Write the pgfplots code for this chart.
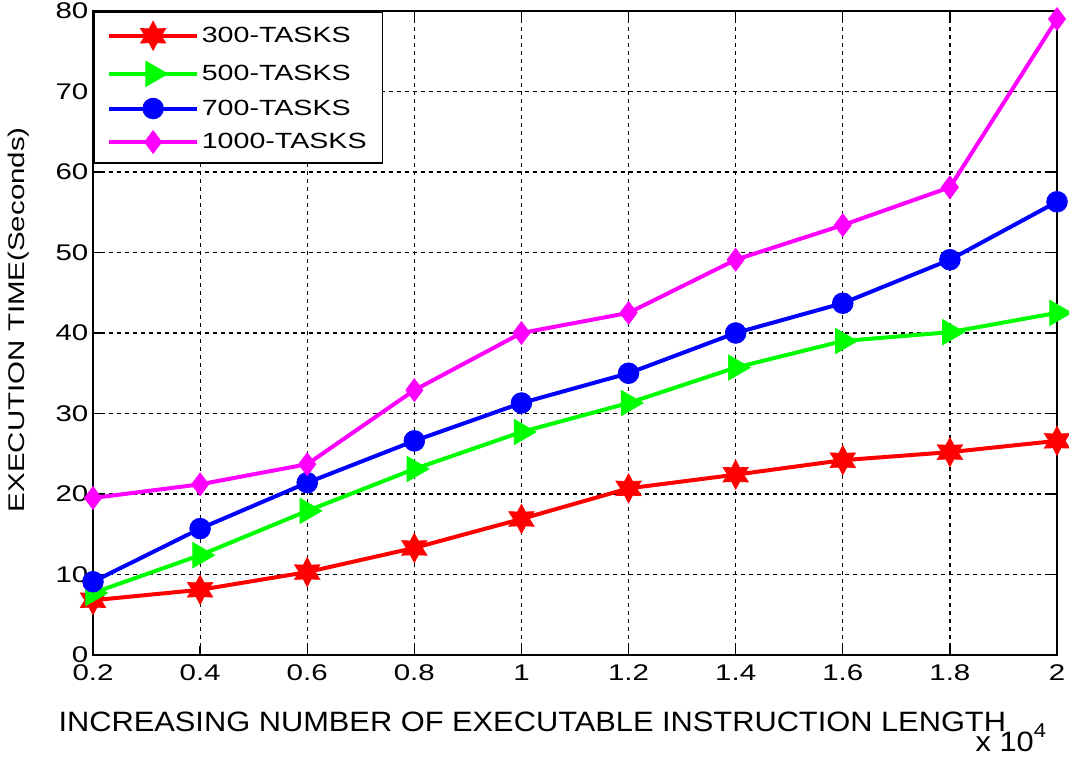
\documentclass[border=0pt]{standalone}
\usepackage{pgfplots}
\pgfplotsset{compat=1.18}
\usepackage{fontspec}
\setmainfont{Liberation Sans}[FakeStretch=1.3]
\newfontfamily\xlfont{Liberation Sans}[FakeStretch=1.1]

% six-pointed filled star like the MATLAB hexagram marker
\pgfdeclareplotmark{hexstar}{%
  \pgfpathmoveto{\pgfpointpolar{90}{\pgfplotmarksize}}%
  \pgfpathlineto{\pgfpointpolar{120}{0.55\pgfplotmarksize}}%
  \pgfpathlineto{\pgfpointpolar{150}{\pgfplotmarksize}}%
  \pgfpathlineto{\pgfpointpolar{180}{0.55\pgfplotmarksize}}%
  \pgfpathlineto{\pgfpointpolar{210}{\pgfplotmarksize}}%
  \pgfpathlineto{\pgfpointpolar{240}{0.55\pgfplotmarksize}}%
  \pgfpathlineto{\pgfpointpolar{270}{\pgfplotmarksize}}%
  \pgfpathlineto{\pgfpointpolar{300}{0.55\pgfplotmarksize}}%
  \pgfpathlineto{\pgfpointpolar{330}{\pgfplotmarksize}}%
  \pgfpathlineto{\pgfpointpolar{0}{0.55\pgfplotmarksize}}%
  \pgfpathlineto{\pgfpointpolar{30}{\pgfplotmarksize}}%
  \pgfpathlineto{\pgfpointpolar{60}{0.55\pgfplotmarksize}}%
  \pgfpathclose
  \pgfusepathqfillstroke
}

\definecolor{mred}{RGB}{255,0,0}
\definecolor{mgreen}{RGB}{0,255,0}
\definecolor{mblue}{RGB}{0,0,255}
\definecolor{mmag}{RGB}{255,0,255}

\begin{document}
\begin{tikzpicture}
\begin{axis}[
    scale only axis,
    width=723pt, height=483pt,
    xmin=0.2, xmax=2,
    ymin=0, ymax=80,
    xtick={0.2,0.4,0.6,0.8,1,1.2,1.4,1.6,1.8,2},
    xticklabels={0.2,0.4,0.6,0.8,1,1.2,1.4,1.6,1.8,2},
    ytick={0,10,20,30,40,50,60,70,80},
    /pgf/number format/assume math mode=true,
    tick label style={font=\fontsize{17}{20}\selectfont},
    xticklabel style={yshift=-4pt},
    grid=major,
    major grid style={black, dash pattern=on 3pt off 3pt, line width=0.9pt},
    axis line style={black, line width=1.5pt},
    tick style={black, line width=1pt},
    tick align=inside,
    major tick length=7pt,
    legend style={at={(rel axis cs:0,1)}, anchor=north west,
        draw=black, line width=1.2pt, fill=white,
        font=\fontsize{16.5}{19}\selectfont,
        inner xsep=10pt, inner ysep=7pt,
        row sep=8pt},
    legend cell align=left,
    legend image code/.code={%
        \draw[mark repeat=2,mark phase=2]
        plot coordinates {(0pt,0pt) (33pt,0pt) (66pt,0pt)};},
    every axis plot/.append style={line width=3pt},
]
\addplot[color=mred, mark=hexstar, mark size=11pt, mark options={solid, fill=mred, line width=0.5pt}] coordinates {
    (0.2,6.8) (0.4,8.1) (0.6,10.3) (0.8,13.3) (1.0,16.9) (1.2,20.7) (1.4,22.4) (1.6,24.2) (1.8,25.2) (2.0,26.6)
};
\addlegendentry{300-TASKS}
\addplot[color=mgreen, mark=triangle*, mark size=11pt, mark options={solid, fill=mgreen, rotate=-90, line width=0.5pt}] coordinates {
    (0.2,7.7) (0.4,12.4) (0.6,17.9) (0.8,23.1) (1.0,27.7) (1.2,31.3) (1.4,35.7) (1.6,39.0) (1.8,40.1) (2.0,42.5)
};
\addlegendentry{500-TASKS}
\addplot[color=mblue, mark=*, mark size=7.8pt, mark options={solid, fill=mblue, line width=0.5pt}] coordinates {
    (0.2,9.1) (0.4,15.7) (0.6,21.4) (0.8,26.6) (1.0,31.3) (1.2,35.0) (1.4,40.0) (1.6,43.7) (1.8,49.1) (2.0,56.3)
};
\addlegendentry{700-TASKS}
\addplot[color=mmag, mark=diamond*, mark size=8.6pt, mark options={solid, fill=mmag, line width=0.5pt}] coordinates {
    (0.2,19.5) (0.4,21.2) (0.6,23.7) (0.8,32.9) (1.0,40.0) (1.2,42.5) (1.4,49.1) (1.6,53.4) (1.8,58.1) (2.0,79.0)
};
\addlegendentry{1000-TASKS}
\coordinate (bl) at (rel axis cs:0,0);
\coordinate (tr) at (rel axis cs:1,1);
\coordinate (br) at (rel axis cs:1,0);
\coordinate (bm) at (rel axis cs:0.5,0);
\coordinate (lm) at (rel axis cs:0,0.5);
\end{axis}
% axis titles and the MATLAB style exponent
\node[font=\xlfont\fontsize{21}{24}\selectfont, anchor=center]
    at ([xshift=-32pt,yshift=-50pt]bm) {INCREASING NUMBER OF EXECUTABLE INSTRUCTION LENGTH};
\node[font=\fontsize{17}{20}\selectfont, rotate=90, anchor=center]
    at ([xshift=-56pt,yshift=10pt]lm) {EXECUTION TIME(Seconds)};
\node[font=\xlfont\fontsize{21}{24}\selectfont, anchor=south east, inner sep=0pt]
    at ([xshift=-8pt,yshift=-73pt]br) {x 10\raisebox{11pt}{\fontsize{15}{17}\selectfont 4}};
\pgfresetboundingbox
\useasboundingbox ([shift={(-69.75pt,-76.5pt)}]bl) rectangle ([shift={(9pt,8.25pt)}]tr);
\end{tikzpicture}
\end{document}
